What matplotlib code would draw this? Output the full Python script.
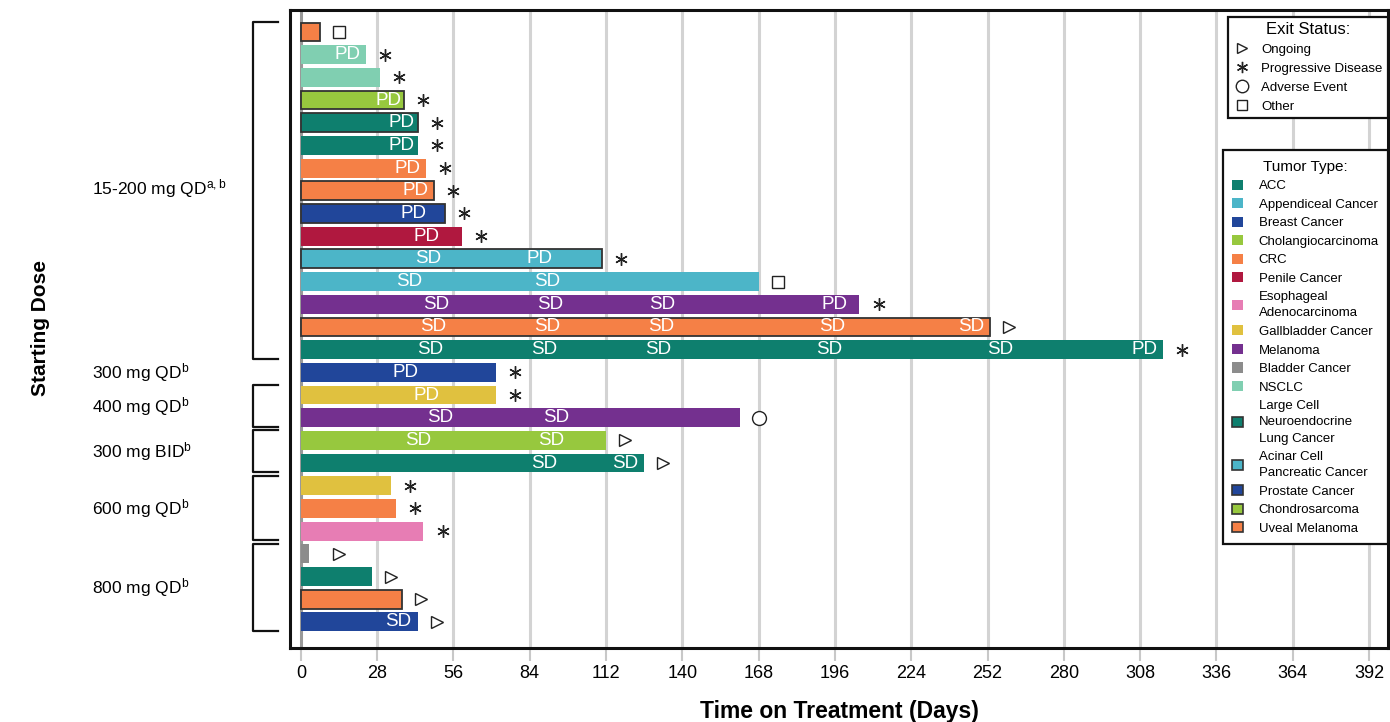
import matplotlib.pyplot as plt
from matplotlib.lines import Line2D
from matplotlib.patches import Patch
import matplotlib.transforms as mtransforms

plt.rcParams['font.family'] = ['Liberation Sans', 'DejaVu Sans']
plt.rcParams['mathtext.fontset'] = 'custom'
plt.rcParams['mathtext.rm'] = 'Liberation Sans'
plt.rcParams['mathtext.it'] = 'Liberation Sans'

# tumour types and colours (outlined ones get a dark edge)
tumor_types = ['ACC', 'Appendiceal Cancer', 'Breast Cancer', 'Cholangiocarcinoma', 'CRC',
               'Penile Cancer', 'Esophageal\nAdenocarcinoma', 'Gallbladder Cancer', 'Melanoma',
               'Bladder Cancer', 'NSCLC', 'Large Cell\nNeuroendocrine\nLung Cancer',
               'Acinar Cell\nPancreatic Cancer', 'Prostate Cancer', 'Chondrosarcoma', 'Uveal Melanoma']
tumor_colors = ['#0e7f6e', '#4cb5c8', '#21469a', '#97c83e', '#f58046',
                '#b0183f', '#e77db4', '#e0c13f', '#74308f',
                '#8c8c8c', '#80cfb1', '#0e7f6e',
                '#4cb5c8', '#21469a', '#97c83e', '#f58046']
tumor_outlined = [False, False, False, False, False,
                  False, False, False, False,
                  False, False, True,
                  True, True, True, True]

# one entry per patient, top to bottom
patient_tumor = ['Uveal Melanoma', 'NSCLC', 'NSCLC', 'Chondrosarcoma',
                 'Large Cell\nNeuroendocrine\nLung Cancer', 'ACC', 'CRC', 'Uveal Melanoma',
                 'Prostate Cancer', 'Penile Cancer', 'Acinar Cell\nPancreatic Cancer',
                 'Appendiceal Cancer', 'Melanoma', 'Uveal Melanoma', 'ACC',
                 'Breast Cancer', 'Gallbladder Cancer', 'Melanoma',
                 'Cholangiocarcinoma', 'ACC',
                 'Gallbladder Cancer', 'CRC', 'Esophageal\nAdenocarcinoma',
                 'Bladder Cancer', 'ACC', 'Uveal Melanoma', 'Breast Cancer']
days_on_treatment = [7, 24, 29, 38, 43, 43, 46, 49, 53, 59, 110.5, 168, 205, 253, 316.5,
                     71.5, 71.5, 161, 112, 126, 33, 35, 45, 3, 26, 37, 43]
exit_status = ['Other', 'PD', 'PD', 'PD', 'PD', 'PD', 'PD', 'PD', 'PD', 'PD', 'PD',
               'Other', 'PD', 'Ongoing', 'PD', 'PD', 'PD', 'AE', 'Ongoing', 'Ongoing',
               'PD', 'PD', 'PD', 'Ongoing', 'Ongoing', 'Ongoing', 'Ongoing']
# response assessments (day, response) per patient
responses = [
    [], [(17, 'PD')], [], [(32, 'PD')], [(37, 'PD')], [(37, 'PD')], [(39, 'PD')],
    [(42, 'PD')], [(41.5, 'PD')], [(46, 'PD')],
    [(46.6, 'SD'), (87.4, 'PD')],
    [(39.6, 'SD'), (90.3, 'SD')],
    [(49.6, 'SD'), (91.4, 'SD'), (132.5, 'SD'), (195.7, 'PD')],
    [(48.5, 'SD'), (90.3, 'SD'), (132.2, 'SD'), (195, 'SD'), (246, 'SD')],
    [(47.4, 'SD'), (89.2, 'SD'), (131, 'SD'), (193.8, 'SD'), (256.6, 'SD'), (309.5, 'PD')],
    [(38.5, 'PD')], [(46, 'PD')],
    [(51, 'SD'), (93.6, 'SD')],
    [(43, 'SD'), (91.8, 'SD')],
    [(89.2, 'SD'), (119, 'SD')],
    [], [], [], [], [], [], [(35.6, 'SD')],
]

# dose cohorts: label, first row, last row, bracket drawn
dose_labels = [r'15-200 mg QD$^{\mathrm{a,b}}$', r'300 mg QD$^{\mathrm{b}}$',
               r'400 mg QD$^{\mathrm{b}}$', r'300 mg BID$^{\mathrm{b}}$',
               r'600 mg QD$^{\mathrm{b}}$', r'800 mg QD$^{\mathrm{b}}$']
dose_first = [0, 15, 16, 18, 20, 23]
dose_last = [14, 15, 17, 19, 22, 26]
dose_bracket = [True, False, True, True, True, True]

xticks = list(range(0, 393, 28))

exit_markers = {'Ongoing': dict(marker='>', ms=8),
                'PD': dict(marker=(6, 2, 0), ms=9),
                'AE': dict(marker='o', ms=10),
                'Other': dict(marker='s', ms=8)}
exit_names = {'Ongoing': 'Ongoing', 'PD': 'Progressive Disease',
              'AE': 'Adverse Event', 'Other': 'Other'}

fig = plt.figure(figsize=(13.9, 7.22), dpi=100)
ax = fig.add_axes([0.2086, 0.1025, 0.79, 0.8837])

color_of = dict(zip(tumor_types, tumor_colors))
outline_of = dict(zip(tumor_types, tumor_outlined))

rows = list(range(len(days_on_treatment)))
for i in rows:
    t = patient_tumor[i]
    ax.barh(i, days_on_treatment[i], height=0.83, color=color_of[t],
            edgecolor='#333333' if outline_of[t] else 'none',
            linewidth=1.3 if outline_of[t] else 0, zorder=3)
    for day, resp in responses[i]:
        ax.text(day, i, resp, color='white', fontsize=13.5, ha='center', va='center', zorder=4)
    mk = exit_markers[exit_status[i]]
    mx = max(days_on_treatment[i] + 7, 14)
    ax.plot(mx, i, linestyle='none', marker=mk['marker'], ms=mk['ms'],
            mfc='white', mec='#222222', mew=1.0, zorder=4)

ax.set_xlim(-4, 399)
ax.set_ylim(len(rows) - 1 + 1.15, -0.97)
ax.set_yticks([])
ax.set_xticks(xticks)
ax.set_xticklabels([str(x) for x in xticks], fontsize=13)
ax.tick_params(axis='x', length=9, width=1.5, color='#c8c8c8', pad=3)
for x in xticks[1:]:
    ax.axvline(x, color='#d3d3d3', lw=2.2, zorder=1)
ax.axvline(0, color='#999999', lw=2.2, zorder=2)
for s in ax.spines.values():
    s.set_linewidth(2.2)
    s.set_color('#111111')

ax.set_xlabel('Time on Treatment (Days)', fontsize=16.5, fontweight='bold', labelpad=13)

# dose brackets and labels on the left
trans = mtransforms.blended_transform_factory(ax.transAxes, ax.transData)
for lab, a, b, br in zip(dose_labels, dose_first, dose_last, dose_bracket):
    if br:
        y0, y1 = a - 0.45, b + 0.4
        ax.plot([-0.011, -0.0337, -0.0337, -0.011], [y0, y0, y1, y1], color='#111111',
                lw=1.6, transform=trans, clip_on=False)
    ax.text(-0.180, (a + b) / 2 - 0.1 * (a == 0), lab, fontsize=12.5, ha='left', va='center',
            transform=trans)

fig.text(0.029, 0.546, 'Starting Dose', rotation=90, fontsize=15, fontweight='bold',
         ha='center', va='center')

# legends
exit_handles = [Line2D([], [], linestyle='none', marker=exit_markers[k]['marker'],
                       ms=exit_markers[k]['ms'] * 0.9, mfc='white', mec='#222222', mew=1.0)
                for k in ['Ongoing', 'PD', 'AE', 'Other']]
leg1 = ax.legend(exit_handles, [exit_names[k] for k in ['Ongoing', 'PD', 'AE', 'Other']],
                 title='Exit Status:', loc='upper right', bbox_to_anchor=(1.0, 0.989),
                 fontsize=9.5, title_fontsize=12, frameon=True, fancybox=False,
                 edgecolor='#111111', framealpha=1, handlelength=1.2, handletextpad=0.9,
                 labelspacing=0.5, borderpad=0.4, borderaxespad=0)
leg1.get_frame().set_linewidth(1.6)
ax.add_artist(leg1)

tumor_handles = [Patch(facecolor=c, edgecolor='#333333' if o else 'none', linewidth=1.2 if o else 0)
                 for c, o in zip(tumor_colors, tumor_outlined)]
leg2 = ax.legend(tumor_handles, tumor_types, title='Tumor Type:', loc='upper right',
                 bbox_to_anchor=(1.0, 0.78), fontsize=9.5, title_fontsize=11,
                 frameon=True, fancybox=False, edgecolor='#111111', framealpha=1,
                 handlelength=0.8, handleheight=0.8, handletextpad=1.2, labelspacing=0.45,
                 borderpad=0.7, borderaxespad=0)
leg2.get_frame().set_linewidth(1.6)
for txt in leg2.get_texts():
    txt.set_linespacing(1.5)
for lg in (leg1, leg2):
    lg.set_zorder(10)

fig.savefig('out.png', dpi=100)
